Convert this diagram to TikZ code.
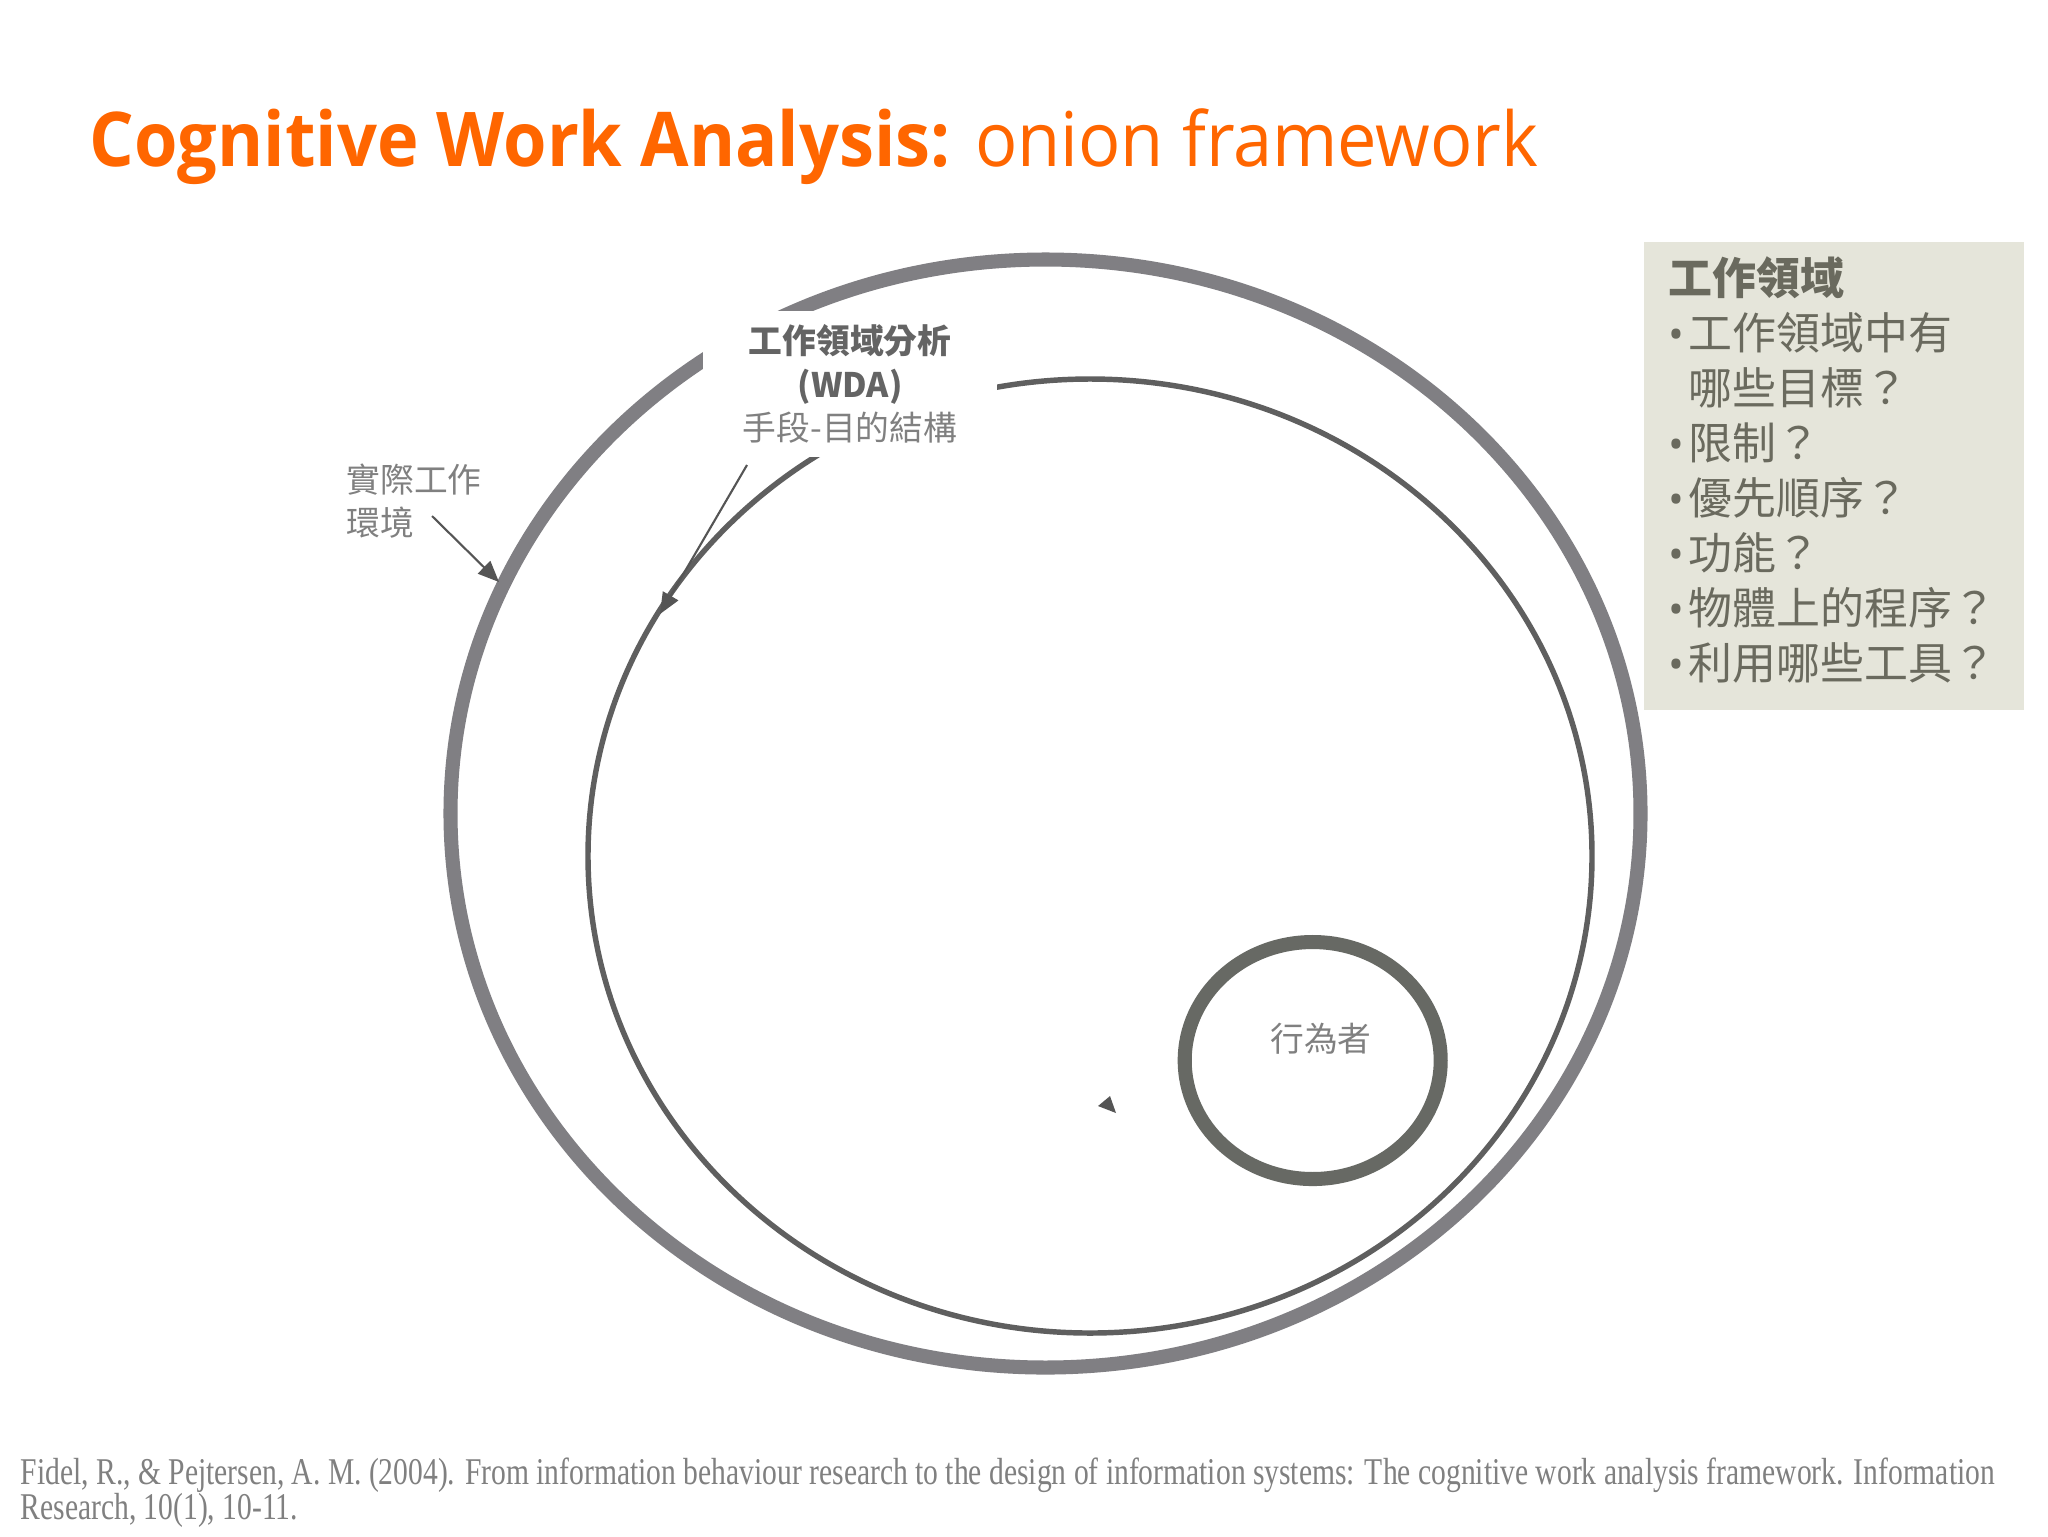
\documentclass[tikz,border=0pt]{standalone}
\usepackage{fontspec}
\setmainfont{Open Sans}
\newfontfamily\titlefont[FakeStretch=0.93]{Open Sans}
\newfontfamily\cjk{Noto Sans CJK TC}
\newfontfamily\refserif[FakeStretch=0.783]{Liberation Serif}
\usetikzlibrary{arrows.meta}
\definecolor{titleOrange}{RGB}{255,102,0}
\definecolor{outerGray}{RGB}{128,127,131}
\definecolor{innerGray}{RGB}{95,95,95}
\definecolor{actorGray}{RGB}{103,105,100}
\definecolor{arrowGray}{RGB}{85,85,85}
\definecolor{boxBeige}{RGB}{229,229,218}
\definecolor{boxText}{RGB}{106,106,94}
\definecolor{labelGray}{RGB}{100,100,100}
\definecolor{lightText}{RGB}{128,128,128}
\newcommand{\bul}{\makebox[2mm][l]{{\rmfamily\large\textbullet}}}
\newcommand{\nob}{\hspace*{2mm}}

\begin{document}
\begin{tikzpicture}[x=0.1mm, y=-0.1mm,
  cjklabel/.style={inner sep=0pt, font=\cjk\fontsize{9.6}{12.4}\selectfont},
  pointer/.style={draw=arrowGray, line width=0.6pt, -{Triangle[length=6pt,width=5pt]}},
  boxline/.style={anchor=base west, inner sep=0pt, text=boxText, font=\cjk\fontsize{12.5}{15}\selectfont}]
	\useasboundingbox (0,0) rectangle (2048,1536);
	\fill[white] (0,0) rectangle (2048,1536);
	% title
	\node[anchor=base west, inner sep=0pt, text=titleOrange, font=\titlefont\fontsize{21.5}{26}\selectfont] (title) at (89,166) {\textbf{Cognitive Work Analysis:} onion framework};
	% rings
	\draw[outerGray, line width=4pt] (1045.5,813.5) ellipse [x radius=595, y radius=554];
	\draw[innerGray, line width=1.55pt] (1090,856) ellipse [x radius=502, y radius=477];
	\draw[actorGray, line width=4pt] (1312.7,1060.5) ellipse [x radius=128, y radius=118.5];
	\node[cjklabel, text=lightText] (actor) at (1321,1039) {行為者};
	% labels
	\node[cjklabel, fill=white, minimum width=29.4mm, minimum height=14.6mm, align=center, text=labelGray] (wda) at (850,384) {\textbf{工作領域分析}\\\textbf{(WDA)}\\\textcolor{lightText}{手段-目的結構}};
	\node[cjklabel, anchor=west, align=left, text=lightText] (env) at (346,501) {實際工作\\環境};
	\coordinate (envtail) at (432,516);
	\coordinate (envtip) at (499,582);
	\coordinate (wdatail) at (747,465);
	\coordinate (wdatip) at (660,614);
	\draw[pointer] (envtail) -- (envtip);
	\draw[pointer] (wdatail) -- (wdatip);
	\fill[arrowGray] (1110,1096) -- (1098,1106) -- (1116,1113) -- cycle;
	% work domain box
	\fill[boxBeige] (1644,242) rectangle (2024,710);
	\node[boxline, font=\cjk\bfseries\fontsize{12.5}{15}\selectfont] (domain) at (1668,294) {工作領域};
	\foreach \txt [count=\i] in {{\bul 工作領域中有}, {\nob 哪些目標？}, {\bul 限制？}, {\bul 優先順序？}, {\bul 功能？}, {\bul 物體上的程序？}, {\bul 利用哪些工具？}}
		\node[boxline] (q\i) at (1668,{294+55*\i}) {\txt};
	% reference
	\node[anchor=base west, inner sep=0pt, text=lightText, font=\refserif\fontsize{10.75}{12}\selectfont] (ref1) at (20,1484) {Fidel, R., \& Pejtersen, A. M. (2004). From information behaviour research to the design of information systems: The cognitive work analysis framework. Information};
	\node[anchor=base west, inner sep=0pt, text=lightText, font=\refserif\fontsize{10.75}{12}\selectfont] (ref2) at (20,1519) {Research, 10(1), 10-11.};
\end{tikzpicture}
\end{document}
